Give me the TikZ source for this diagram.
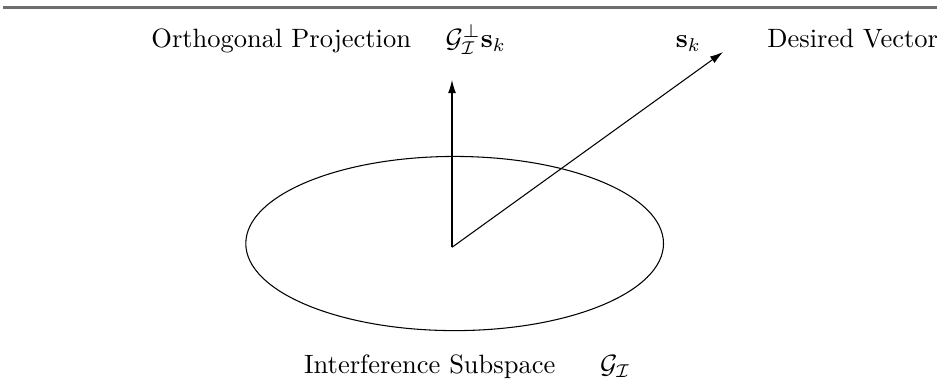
\documentclass[tikz,border=0pt]{standalone}
\usepackage{amsmath,amssymb}
\usepackage{tikz}
\usetikzlibrary{arrows.meta,positioning,shapes.geometric}
\definecolor{RuleGray}{RGB}{110,110,110}

\begin{document}
\begin{tikzpicture}[
    vec/.style={-{Latex[length=5pt,width=3pt]}, thin},
    lbl/.style={anchor=base, inner sep=0pt}
  ]
  \useasboundingbox (0,0) rectangle (12.56,5.03);

  % Rule at the top
  \coordinate (ruleL) at (0.04,4.93);
  \coordinate (ruleR) at (12.43,4.93);
  \draw[RuleGray, line width=0.8pt] (ruleL) -- (ruleR);

  % Interference subspace
  \node[draw, thin, ellipse, inner sep=0pt, minimum width=5.54cm, minimum height=2.31cm] (subspace) at (6.03,1.80) {};

  % Vectors
  \coordinate (orig) at (5.995,1.75);
  \coordinate (projtip) at (5.995,3.97);
  \coordinate (desiredtip) at (9.59,4.34);
  \draw[vec] (orig) -- (projtip);
  \draw[vec] (orig) -- (desiredtip);

  % Labels
  \node[lbl] (projtext) at (3.73,4.40) {Orthogonal Projection};
  \node[lbl] (projsym) at (6.31,4.40) {$\mathcal{G}_{\mathcal{I}}^{\perp}\mathbf{s}_k$};
  \node[lbl] (desiredsym) at (9.13,4.40) {$\mathbf{s}_k$};
  \node[lbl] (desiredtext) at (11.31,4.40) {Desired Vector};
  \node[lbl] (subtext) at (5.70,0.08) {Interference Subspace};
  \node[lbl] (subsym) at (8.16,0.08) {$\mathcal{G}_{\mathcal{I}}$};
\end{tikzpicture}
\end{document}
